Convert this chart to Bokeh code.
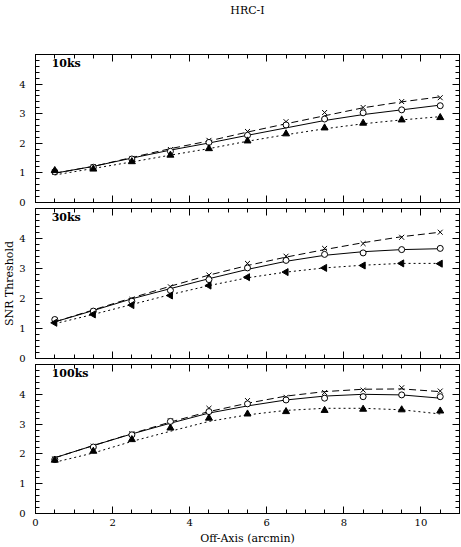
import math
from bokeh.plotting import figure
from bokeh.models import LinearAxis, FixedTicker, Range1d, Label
from bokeh.layouts import column
from bokeh.embed import file_html
from bokeh.resources import INLINE

# ---------------- data ----------------
title_text = "HRC-I"
x_label = "Off-Axis (arcmin)"
y_label = "SNR Threshold"
off_axis = [0.5, 1.5, 2.5, 3.5, 4.5, 5.5, 6.5, 7.5, 8.5, 9.5, 10.5]
x_tick_values = [0, 2, 4, 6, 8, 10]
y_tick_values = [0, 1, 2, 3, 4]
panel_names = ["10ks", "30ks", "100ks"]

# 10 ks
cross_10 = [1.02, 1.21, 1.49, 1.79, 2.10, 2.40, 2.73, 3.04, 3.21, 3.41, 3.54]
circ_10 = [1.04, 1.19, 1.47, 1.73, 2.03, 2.27, 2.62, 2.82, 3.03, 3.13, 3.27]
tri_10 = [1.08, 1.13, 1.38, 1.60, 1.82, 2.08, 2.32, 2.52, 2.68, 2.79, 2.87]
fit_cross_10 = [0.99, 1.22, 1.52, 1.82, 2.08, 2.38, 2.66, 2.93, 3.20, 3.40, 3.57]
fit_circ_10 = [0.99, 1.22, 1.50, 1.77, 2.01, 2.27, 2.52, 2.77, 2.97, 3.13, 3.29]
fit_tri_10 = [0.93, 1.15, 1.37, 1.60, 1.82, 2.07, 2.29, 2.49, 2.66, 2.79, 2.90]

# 30 ks
cross_30 = [1.30, 1.58, 1.97, 2.39, 2.78, 3.17, 3.41, 3.67, 3.83, 4.04, 4.21]
circ_30 = [1.30, 1.58, 1.91, 2.27, 2.63, 3.02, 3.27, 3.47, 3.52, 3.63, 3.67]
tri_30 = [1.19, 1.47, 1.78, 2.10, 2.43, 2.71, 2.88, 3.02, 3.10, 3.17, 3.16]
fit_cross_30 = [1.22, 1.62, 2.02, 2.41, 2.78, 3.10, 3.38, 3.63, 3.86, 4.06, 4.21]
fit_circ_30 = [1.22, 1.60, 1.99, 2.33, 2.66, 2.97, 3.24, 3.44, 3.56, 3.63, 3.66]
fit_tri_30 = [1.16, 1.47, 1.80, 2.13, 2.43, 2.69, 2.88, 3.02, 3.11, 3.17, 3.17]

# 100 ks
cross_100 = [1.83, 2.26, 2.68, 3.11, 3.53, 3.79, 3.90, 4.06, 4.14, 4.22, 4.11]
circ_100 = [1.81, 2.23, 2.64, 3.09, 3.42, 3.68, 3.81, 3.87, 3.92, 3.98, 3.92]
tri_100 = [1.79, 2.09, 2.48, 2.87, 3.20, 3.34, 3.42, 3.46, 3.50, 3.48, 3.44]
fit_cross_100 = [1.87, 2.28, 2.68, 3.07, 3.42, 3.70, 3.94, 4.09, 4.17, 4.18, 4.09]
fit_circ_100 = [1.87, 2.28, 2.67, 3.03, 3.37, 3.61, 3.81, 3.94, 4.00, 3.98, 3.87]
fit_tri_100 = [1.72, 2.03, 2.42, 2.76, 3.09, 3.31, 3.46, 3.53, 3.53, 3.48, 3.34]

FONT = "DejaVu Serif"
FS = "11px"
TICK_FS = "10px"


def style_axis(ax, ticks, minor, show_labels, standoff=8):
    ax.ticker = FixedTicker(ticks=ticks, minor_ticks=minor)
    ax.major_tick_in = 7
    ax.major_tick_out = 0
    ax.minor_tick_in = 4
    ax.minor_tick_out = 0
    ax.axis_line_color = "black"
    ax.major_tick_line_color = "black"
    ax.minor_tick_line_color = "black"
    ax.major_label_text_font = FONT
    ax.major_label_text_font_size = TICK_FS
    ax.axis_label_text_font = FONT
    ax.axis_label_text_font_size = FS
    ax.axis_label_text_font_style = "normal"
    ax.axis_label_text_color = "black"
    if show_labels:
        ax.major_label_text_color = "black"
        ax.major_label_standoff = standoff
    else:
        ax.major_label_text_color = None
        ax.major_label_standoff = 0


x_minor = [i * 0.5 for i in range(23)]
y_minor = [i * 0.2 for i in range(26)]


def make_panel(name, cross, circ, tri, fcross, fcirc, ftri, tri_angle,
               height, top, bottom, show_x):
    p = figure(width=461, height=height, x_range=Range1d(0, 11), y_range=Range1d(0, 5),
               output_backend="svg", toolbar_location=None,
               min_border_left=31, min_border_right=2,
               min_border_top=top, min_border_bottom=bottom)
    p.xgrid.visible = False
    p.ygrid.visible = False
    p.outline_line_color = "black"
    p.background_fill_color = "white"
    p.border_fill_color = "white"

    bottom_ax = p.below[0]
    left_ax = p.left[0]
    style_axis(bottom_ax, x_tick_values, x_minor, show_x, standoff=5)
    style_axis(left_ax, y_tick_values, y_minor, True, standoff=10)
    top_ax = LinearAxis()
    style_axis(top_ax, x_tick_values, x_minor, False)
    p.add_layout(top_ax, "above")
    right_ax = LinearAxis()
    style_axis(right_ax, y_tick_values, y_minor, False)
    p.add_layout(right_ax, "right")

    p.line(off_axis, fcross, line_color="black", line_width=1, line_dash="7 4")
    p.line(off_axis, fcirc, line_color="black", line_width=1)
    p.line(off_axis, ftri, line_color="black", line_width=1, line_dash="2 3")

    p.scatter(off_axis, cross, marker="x", size=7, line_color="black", line_width=1)
    p.scatter(off_axis, circ, marker="circle", size=6, fill_color="white",
              line_color="black", line_width=1)
    p.scatter(off_axis, tri, marker="triangle", size=7, fill_color="black",
              line_color="black", angle=tri_angle)

    p.add_layout(Label(x=0.42, y=4.93, text=name, text_font=FONT, text_font_size=FS,
                       text_font_style="bold", text_baseline="top", text_align="left",
                       text_color="black"))
    return p, {"top": top_ax, "bottom": bottom_ax, "left": left_ax}


f1, ax1 = make_panel(panel_names[0], cross_10, circ_10, tri_10,
                     fit_cross_10, fit_circ_10, fit_tri_10, 0.0, 208, 52, 6, False)
f2, ax2 = make_panel(panel_names[1], cross_30, circ_30, tri_30,
                     fit_cross_30, fit_circ_30, fit_tri_30, math.pi / 2, 156, 0, 6, False)
f3, ax3 = make_panel(panel_names[2], cross_100, circ_100, tri_100,
                     fit_cross_100, fit_circ_100, fit_tri_100, 0.0, 183, 0, 33, True)

# title above the top panel (as the label of the mirrored top axis)
ax1["top"].axis_label = title_text
ax1["top"].axis_label_standoff = 38

# y axis label (middle panel)
ax2["left"].axis_label = y_label
ax2["left"].axis_label_standoff = 0

# x axis label (bottom panel)
ax3["bottom"].axis_label = x_label
ax3["bottom"].axis_label_standoff = 3

layout = column(f1, f2, f3, spacing=0)

open("out.html", "w").write(file_html(layout, INLINE))
